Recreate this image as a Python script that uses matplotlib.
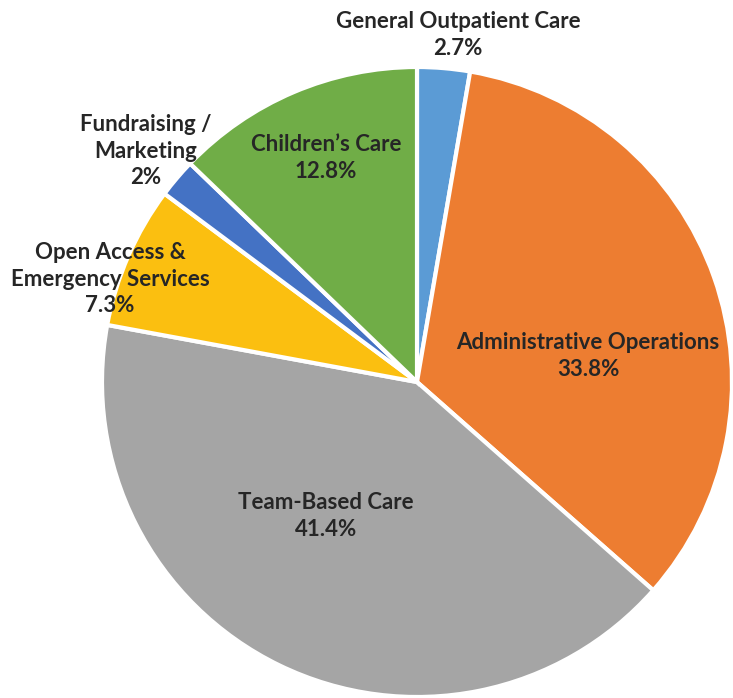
import matplotlib
matplotlib.use("Agg")
import matplotlib.pyplot as plt

categories = ["General Outpatient Care", "Administrative Operations", "Team-Based Care",
              "Open Access &\nEmergency Services", "Fundraising /\nMarketing", "Children’s Care"]
values = [2.7, 33.8, 41.4, 7.3, 2.0, 12.8]
value_labels = ["2.7%", "33.8%", "41.4%", "7.3%", "2%", "12.8%"]
colors = ["#5B9BD5", "#ED7D31", "#A5A5A5", "#FBBF10", "#4472C4", "#70AD47"]

# label block centres in pixel coordinates (x from left, y from top)
label_pos = [(458, 35), (588, 356), (326, 516), (110, 279), (146, 151), (326, 158)]

W, H = 733, 698
fig = plt.figure(figsize=(W / 100, H / 100), dpi=100)
ax = fig.add_axes([0, 0, 1, 1])

cx, cy, R = 417, H - 382, 315
ax.pie(values, colors=colors, startangle=90, counterclock=False,
       center=(cx, cy), radius=R, frame=True,
       wedgeprops=dict(edgecolor="white", linewidth=3))
ax.set_xlim(0, W)
ax.set_ylim(0, H)
ax.set_aspect("equal")
ax.axis("off")

for cat, vl, (x, y) in zip(categories, value_labels, label_pos):
    ax.text(x, H - y, f"{cat}\n{vl}", ha="center", va="center", multialignment="center",
            fontsize=16, fontweight="bold", color="#262626", family=["Lato", "DejaVu Sans"],
            linespacing=1.32)

fig.savefig("out.png", dpi=100)
